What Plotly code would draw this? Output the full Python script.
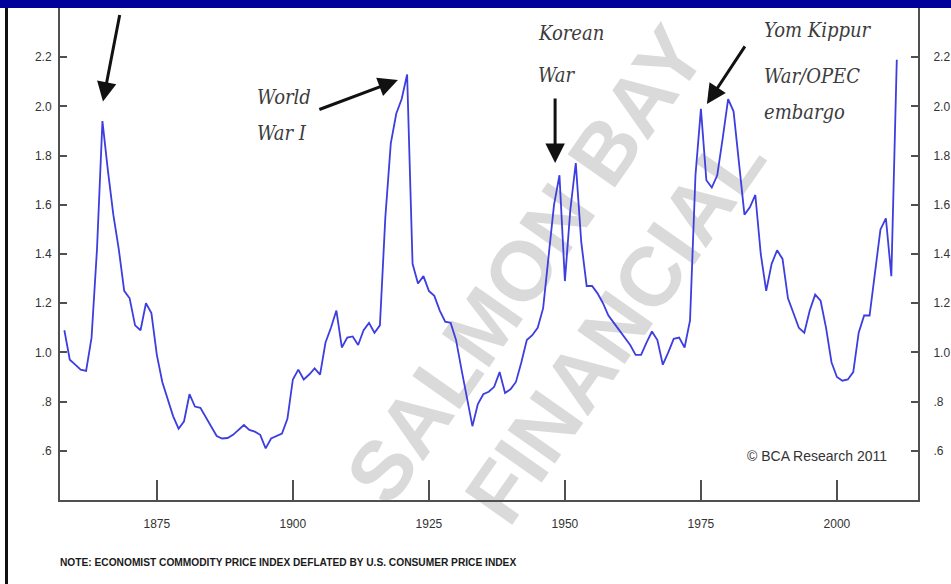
import plotly.graph_objects as go

# Economist commodity price index deflated by US CPI (annual)
years = list(range(1858, 2012))
index_values = [
    1.09, 0.97, 0.95, 0.93, 0.925, 1.06, 1.42, 1.94, 1.74, 1.56,          # 1858-1867
    1.42, 1.25, 1.22, 1.11, 1.09, 1.20, 1.16, 0.99, 0.88, 0.81,           # 1868-1877
    0.74, 0.69, 0.72, 0.83, 0.78, 0.775, 0.735, 0.70, 0.66, 0.65,         # 1878-1887
    0.652, 0.665, 0.685, 0.705, 0.685, 0.678, 0.665, 0.61, 0.65, 0.66,    # 1888-1897
    0.67, 0.73, 0.89, 0.93, 0.89, 0.91, 0.935, 0.91, 1.04, 1.10,          # 1898-1907
    1.17, 1.02, 1.06, 1.065, 1.03, 1.09, 1.12, 1.08, 1.11, 1.55,          # 1908-1917
    1.85, 1.97, 2.03, 2.13, 1.36, 1.28, 1.31, 1.25, 1.23, 1.17,           # 1918-1927
    1.125, 1.12, 1.05, 0.93, 0.81, 0.70, 0.79, 0.83, 0.84, 0.86,          # 1928-1937
    0.92, 0.835, 0.85, 0.88, 0.96, 1.05, 1.07, 1.10, 1.18, 1.40,          # 1938-1947
    1.60, 1.72, 1.29, 1.58, 1.77, 1.45, 1.27, 1.27, 1.24, 1.20,           # 1948-1957
    1.15, 1.12, 1.09, 1.06, 1.03, 0.99, 0.99, 1.04, 1.085, 1.05,          # 1958-1967
    0.95, 1.00, 1.055, 1.06, 1.02, 1.13, 1.72, 1.99, 1.70, 1.67,          # 1968-1977
    1.72, 1.87, 2.03, 1.98, 1.78, 1.56, 1.59, 1.64, 1.40, 1.25,           # 1978-1987
    1.36, 1.415, 1.38, 1.22, 1.16, 1.10, 1.08, 1.17, 1.235, 1.21,         # 1988-1997
    1.10, 0.96, 0.90, 0.885, 0.89, 0.92, 1.08, 1.15, 1.15, 1.32,          # 1998-2007
    1.50, 1.545, 1.31, 2.19,                                              # 2008-2011
]

y_ticks = [0.6, 0.8, 1.0, 1.2, 1.4, 1.6, 1.8, 2.0, 2.2]
y_tick_labels = [".6", ".8", "1.0", "1.2", "1.4", "1.6", "1.8", "2.0", "2.2"]
x_ticks = [1875, 1900, 1925, 1950, 1975, 2000]

W, H = 951, 584
ML, MR, MT, MB = 60, 33, 8, 84
PW, PH = W - ML - MR, H - MT - MB

SANS = "Liberation Sans, Arial, sans-serif"
HAND = "DejaVu Serif Condensed, DejaVu Serif, serif"
AXIS_GREY = "#505050"


def px_x(p):
    return (p - ML) / PW


def px_y(p):
    return 1 - (p - MT) / PH


fig = go.Figure()

# faint diagonal watermark, drawn first so the series sits on top of it
fig.add_trace(go.Bar(
    x=[1951.0], y=[0.1], base=[1.18], width=[2],
    marker=dict(color="rgba(0,0,0,0)", line=dict(width=0)),
    text=["SALMON BAY<br>FINANCIAL"], textposition="inside",
    insidetextanchor="middle", textangle=-55, constraintext="none",
    insidetextfont=dict(family=SANS, size=84, color="#dadada", weight="bold"),
    textfont=dict(family=SANS, size=84, color="#dadada", weight="bold"),
    cliponaxis=False, hoverinfo="skip", showlegend=False,
))

fig.add_trace(go.Scatter(
    x=years, y=index_values, mode="lines",
    line=dict(color="#3d3de0", width=1.8),
    hoverinfo="skip", showlegend=False,
))
# same series on the right-hand axis so both scales are drawn
fig.add_trace(go.Scatter(
    x=years, y=index_values, mode="lines", yaxis="y2",
    line=dict(color="rgba(0,0,0,0)", width=0),
    hoverinfo="skip", showlegend=False,
))

axis_common = dict(
    showline=True, linecolor=AXIS_GREY, linewidth=2,
    ticks="inside", tickcolor=AXIS_GREY, tickwidth=1.5,
    showgrid=False, zeroline=False, automargin=False,
    tickfont=dict(family=SANS, size=12, color="#333333"),
)

fig.update_layout(
    width=W, height=H,
    margin=dict(l=ML, r=MR, t=MT, b=MB, autoexpand=False),
    paper_bgcolor="white", plot_bgcolor="white",
    xaxis=dict(range=[1857.2, 2014.9], tickvals=x_ticks, ticklen=20,
               ticklabelstandoff=12, **axis_common),
    yaxis=dict(range=[0.4, 2.4], tickvals=y_ticks, ticktext=y_tick_labels,
               ticklen=7, side="left", ticklabelstandoff=4, **axis_common),
    yaxis2=dict(range=[0.4, 2.4], tickvals=y_ticks, ticktext=y_tick_labels,
                ticklen=7, side="right", overlaying="y", anchor="x",
                ticklabelstandoff=11, **axis_common),
)

# frame: blue band on top, dark rule on the left
fig.add_shape(type="rect", xref="paper", yref="paper",
              x0=px_x(0), x1=px_x(W), y0=px_y(MT), y1=px_y(0),
              fillcolor="#00009a", line_width=0, layer="above")
fig.add_shape(type="rect", xref="paper", yref="paper",
              x0=px_x(5), x1=px_x(8), y0=px_y(H), y1=px_y(MT),
              fillcolor="#111111", line_width=0, layer="above")

hand_font = dict(family=HAND, size=20, color="#3c3c3c", style="italic")
labels = [
    ("World", 255, 97), ("War I", 255, 133),
    ("Korean", 536, 33), ("War", 536, 75),
    ("Yom Kippur", 762, 30), ("War/OPEC", 762, 76), ("embargo", 762, 112),
]
for text, lx, ly in labels:
    fig.add_annotation(text=text, xref="paper", yref="paper",
                       x=px_x(lx), y=px_y(ly), xanchor="left", yanchor="middle",
                       showarrow=False, font=hand_font)

arrows = [
    (1865.1, 2.02, 17, -88),
    (1919.3, 2.107, -80, 30),
    (1948.2, 1.77, 0, -66),
    (1976.1, 2.01, 39, -59),
]
for ax_x, ax_y, dx, dy in arrows:
    fig.add_annotation(x=ax_x, y=ax_y, xref="x", yref="y", text="",
                       showarrow=True, ax=dx, ay=dy, axref="pixel", ayref="pixel",
                       arrowhead=2, arrowsize=1.3, arrowwidth=3,
                       arrowcolor="#111111", standoff=0)

fig.add_annotation(text="© BCA Research 2011", xref="paper", yref="paper",
                   x=px_x(889), y=px_y(456), xanchor="right", yanchor="middle",
                   showarrow=False,
                   font=dict(family=SANS, size=14, color="#333333"))
fig.add_annotation(
    text="<b>NOTE: ECONOMIST COMMODITY PRICE INDEX DEFLATED BY U.S. CONSUMER PRICE INDEX</b>",
    xref="paper", yref="paper", x=px_x(58), y=px_y(562),
    xanchor="left", yanchor="middle", showarrow=False,
    font=dict(family=SANS, size=10.2, color="#1a1a1a"))

fig.write_html("out.html")
